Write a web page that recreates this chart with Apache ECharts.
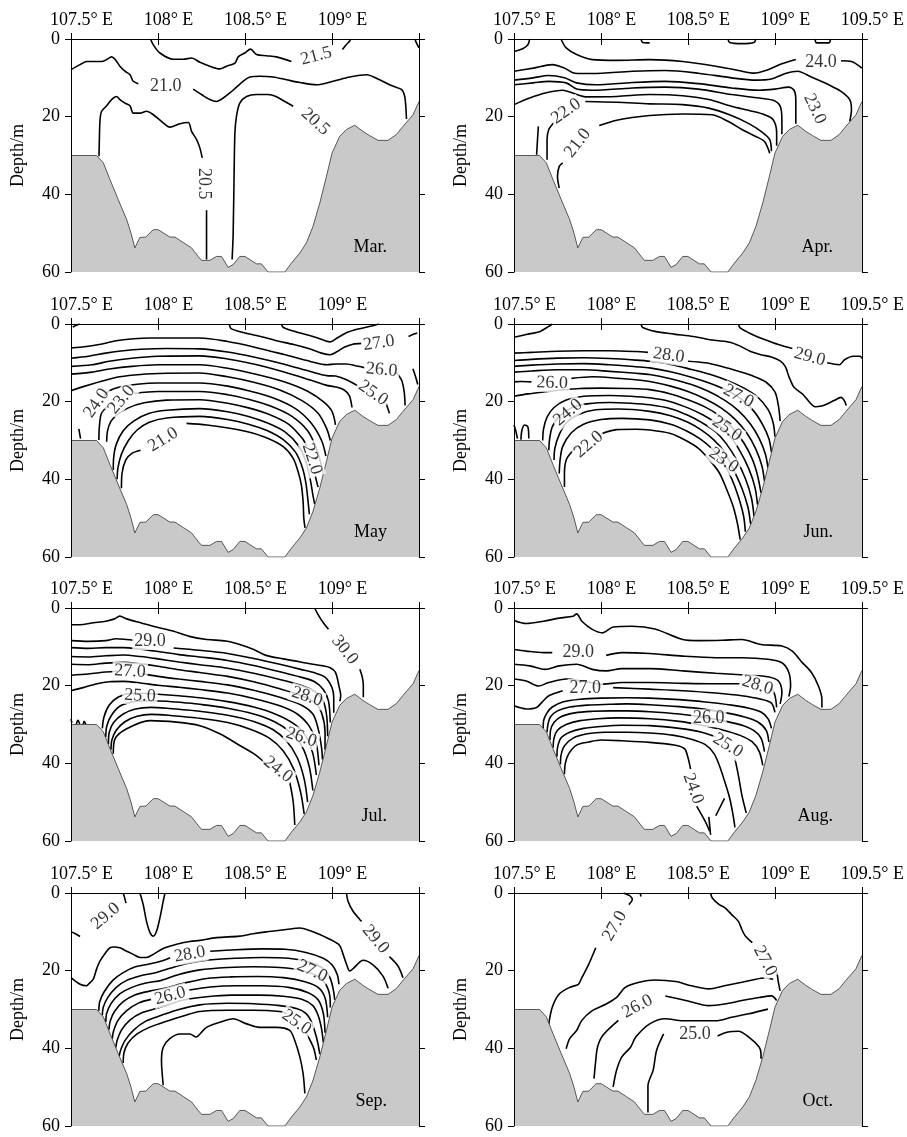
<!DOCTYPE html>
<html><head><meta charset="utf-8">
<script src="https://cdn.jsdelivr.net/npm/echarts/dist/echarts.min.js"></script>
<style>html,body{margin:0;padding:0;background:#fff}#c{width:907px;height:1137px}</style>
</head><body><div id="c"></div>
<script>
const lonTicks = [107.5, 108, 108.5, 109, 109.5];
const depthTicks = [0, 20, 40, 60];
const months = ['Mar.', 'Apr.', 'May', 'Jun.', 'Jul.', 'Aug.', 'Sep.', 'Oct.'];

// bottom topography [lon, depth]
const bathymetry = [[107.5,30],[107.647,30],[107.686,31.9],[107.724,36.2],[107.772,41.4],[107.82,46.5],[107.845,50],[107.867,53.8],[107.896,51.1],[107.93,51],[107.973,49.1],[108.001,49.1],[108.068,51],[108.097,51],[108.145,52.4],[108.193,53.8],[108.231,56],[108.25,57],[108.298,57],[108.336,56],[108.365,56],[108.403,58.8],[108.432,58.1],[108.47,56],[108.5,56],[108.566,57.9],[108.594,57.9],[108.633,60],[108.729,60],[108.767,57.7],[108.815,55.1],[108.853,52.5],[108.891,48.2],[108.93,42.2],[108.968,35.4],[109.0,29.4],[109.044,25.1],[109.083,23.3],[109.131,22.2],[109.178,23.8],[109.217,24.9],[109.264,26.1],[109.322,26.1],[109.37,24.6],[109.408,22.5],[109.466,19.5],[109.5,16.1]];

// ---- March ----
const marLines = [
 [[107.957,0],[107.973,1.5],[108.011,3.6],[108.088,5.2],[108.145,5.2],[108.193,4.9],[108.241,6.0],[108.298,7.0],[108.355,7.7],[108.394,7.0],[108.442,6.2],[108.461,4.6],[108.499,3.6],[108.532,2.6],[108.566,4.0],[108.623,4.3],[108.681,4.6],[108.767,5.8]],
 [[109.06,2.7],[109.083,1.4],[109.102,0.5],[109.106,0]],
 [[109.477,0],[109.485,1.0],[109.5,2.3]],
 [[107.5,7.9],[107.552,6.6],[107.59,5.8],[107.628,5.8],[107.676,5.8],[107.705,5.3],[107.733,4.6],[107.753,5.2],[107.781,7.0],[107.81,8.3],[107.839,9.2],[107.858,10.9],[107.887,11.5]],
 [[108.202,12.9],[108.25,14.3],[108.298,15.6],[108.336,16.1],[108.375,15.2],[108.413,13.9],[108.451,12.4],[108.489,10.9],[108.528,9.8],[108.585,9.6],[108.662,9.8],[108.738,10.5],[108.815,11.2],[108.911,11.8],[109.006,10.9],[109.102,9.8],[109.198,9.2],[109.274,10.5],[109.341,12.0],[109.399,13.0],[109.418,14.8],[109.424,17.3],[109.428,20.6]],
 [[107.661,30.2],[107.663,25.9],[107.667,20.8],[107.676,18.6],[107.705,17.2],[107.733,15.6],[107.762,14.8],[107.781,15.6],[107.81,16.5],[107.839,17.2],[107.858,19.1],[107.896,19.1],[107.934,18.6],[107.973,19.5],[108.03,21.6],[108.068,22.7],[108.126,21.8],[108.174,21.5],[108.193,23.8],[108.222,25.9],[108.241,28.1],[108.254,30.6]],
 [[108.279,44.1],[108.279,56.8]],
 [[108.426,56.8],[108.432,50],[108.438,32.8],[108.442,24.2],[108.451,19.9],[108.47,16.5],[108.509,14.8],[108.566,14.3],[108.633,14.3],[108.681,14.9],[108.729,16.1],[108.777,17.3]]
];
const marLabels = [['21.5',108.91,4.4,15],['21.0',108.045,12.3,0],['20.5',108.263,37.3,-90],['20.5',108.905,21.3,-42]];

// ---- April ----
const aprLines = [
 [[107.5,3.2],[107.55,2.5],[107.58,1.5],[107.59,0]],
 [[108.23,0],[108.24,0.9],[108.28,1.0]],
 [[108.73,0],[108.74,0.9],[108.81,1.2],[108.88,0.9],[108.89,0]],
 [[109.23,0],[109.24,1.0],[109.31,1.0],[109.32,0]],
 [[107.77,0],[107.8,2.3],[107.86,4.0],[107.95,5.3],[108.09,5.5],[108.28,5.3],[108.47,5.8],[108.66,7.0],[108.79,8.1],[108.88,8.8],[108.96,7.9],[109.04,6.4],[109.12,5.3]],
 [[109.38,5.6],[109.44,5.8],[109.5,7.5]],
 [[107.5,8.3],[107.61,7.5],[107.72,6.6],[107.79,7.5],[107.85,8.8],[107.95,8.9],[108.18,8.3],[108.37,8.1],[108.56,8.8],[108.75,10.0],[108.89,10.6],[108.98,10.3],[109.06,8.9],[109.13,8.3],[109.21,9.8],[109.31,11.8],[109.38,13.5],[109.43,15.6],[109.44,18.2],[109.43,21.2]],
 [[107.5,10.6],[107.61,10.0],[107.7,9.4],[107.79,10.0],[107.86,11.3],[107.97,11.8],[108.18,11.2],[108.37,10.9],[108.56,11.5],[108.75,12.6],[108.91,13.2],[109.0,12.9],[109.08,12.4],[109.11,13.2],[109.12,15.6],[109.12,19.5],[109.12,21.8]],
 [[107.5,11.8],[107.61,11.3],[107.7,10.9],[107.8,11.3],[107.86,12.9],[107.95,13.2],[108.18,12.6],[108.37,12.4],[108.56,12.9],[108.75,14.3],[108.91,15.2],[108.99,15.8],[109.03,17.3],[109.04,20.8],[109.04,24.5]],
 [[107.5,16.9],[107.59,15.2],[107.68,13.9],[107.78,13.2],[107.86,14.3],[107.91,14.9],[108.09,14.8],[108.28,14.3],[108.47,14.6],[108.62,15.6],[108.75,17.3],[108.87,18.6],[108.94,19.5],[108.99,20.8],[109.01,24.2],[109.01,27.5]],
 [[107.64,22.5],[107.635,26],[107.63,29.8]],
 [[107.69,31.1],[107.69,25.9],[107.7,23.3],[107.73,21.5]],
 [[107.91,16.1],[108.09,16.3],[108.28,16.7],[108.47,16.9],[108.62,17.8],[108.75,19.7],[108.85,21.8],[108.92,23.8],[108.97,25.9],[108.98,28.9]],
 [[107.76,38.4],[107.75,35.4],[107.76,32.8],[107.78,31.9]],
 [[107.99,22.3],[108.09,20.9],[108.28,19.7],[108.47,19.3],[108.64,19.5],[108.73,21.2],[108.81,23.3],[108.89,25.1],[108.94,26.4],[108.97,29.4]]
];
const aprLabels = [['24.0',109.265,6.0,0],['23.0',109.229,18.0,-65],['22.0',107.8,18.6,35],['21.0',107.866,26.8,52]];

// ---- May ----
const mayLines = [
 [[107.51,0.8],[107.53,0.3],[107.55,0]],
 [[108.41,0],[108.42,1.2],[108.49,2.2],[108.59,3.2],[108.68,4.3],[108.78,5.3],[108.87,6.4],[108.94,7.5],[108.99,7.9],[109.03,7.1],[109.07,6.0],[109.12,5.2],[109.17,5.0]],
 [[109.44,3.2],[109.47,2.6],[109.49,2.3]],
 [[108.71,0],[108.72,0.9],[108.8,2.1],[108.89,3.2],[108.96,4.3],[108.99,4.6],[109.03,3.6],[109.08,2.3],[109.15,1.3],[109.22,0.6],[109.27,0]],
 [[107.5,6.2],[107.59,5.8],[107.67,5.2],[107.76,4.3],[107.86,3.8],[107.95,3.6],[108.09,3.6],[108.24,3.6],[108.4,4.5],[108.55,5.9],[108.72,7.8],[108.88,9.7],[108.97,10.5],[109.02,10.3],[109.08,10.3],[109.15,10.9],[109.19,11.3]],
 [[109.37,12.5],[109.4,14.5],[109.415,17.5],[109.42,21]],
 [[109.465,11.5],[109.48,13.5],[109.493,15.6]],
 [[107.5,8.8],[107.6,8.3],[107.7,7.5],[107.8,6.9],[107.9,6.5],[108.05,6.3],[108.24,6.4],[108.4,7.2],[108.55,8.5],[108.72,10.3],[108.88,12.3],[108.97,13.3],[109.02,13.4],[109.08,14.3],[109.15,16]],
 [[109.31,20.3],[109.33,23]],
 [[107.5,10.9],[107.62,10.5],[107.72,9.6],[107.85,8.8],[108.0,8.3],[108.24,8.2],[108.4,9.0],[108.55,10.3],[108.72,12.3],[108.88,14.5],[108.97,15.8],[109.02,16.2],[109.07,17.0],[109.1,18.5],[109.115,21.5]],
 [[107.5,12.9],[107.62,12.4],[107.72,11.6],[107.85,10.9],[108.0,10.5],[108.24,10.5],[108.4,11.4],[108.55,12.8],[108.72,14.8],[108.86,17.3],[108.95,20],[109.0,22.5],[109.02,26]],
 [[107.5,17.2],[107.58,16.0],[107.67,14.8],[107.78,13.6],[107.9,13.0],[108.05,12.7],[108.24,12.6],[108.4,13.6],[108.55,15.0],[108.7,17.0],[108.83,19.8],[108.92,23],[108.97,27],[108.99,30]],
 [[107.545,27],[107.55,28.3],[107.555,29.5]],
 [[107.69,18.6],[107.72,17.2],[107.78,16.2],[107.88,15.5],[108.0,15.2],[108.24,15.2],[108.4,16.0],[108.52,17.2],[108.66,19.0],[108.79,21.8],[108.88,25.5],[108.94,30],[108.965,34]],
 [[107.66,29.9],[107.663,26.5],[107.675,23],[107.71,21.3]],
 [[107.86,17.9],[108.0,17.4],[108.24,17.4],[108.4,18.2],[108.52,19.4],[108.65,21.2],[108.77,23.8],[108.86,27.5],[108.91,32],[108.94,36.5],[108.948,38.3]],
 [[107.705,30.3],[107.71,27.5],[107.73,25],[107.77,23.2],[107.83,21.6],[107.92,20.3],[108.05,19.6],[108.24,19.5],[108.4,20.4],[108.52,21.6],[108.64,23.3],[108.75,25.8],[108.83,29.5],[108.855,31.5]],
 [[108.903,39],[108.92,42]],
 [[107.743,37.6],[107.745,34.5],[107.76,31],[107.8,27.5],[107.86,25],[107.95,23],[108.05,22.2],[108.24,21.8],[108.4,22.6],[108.52,23.8],[108.63,25.5],[108.73,27.8],[108.81,31.5],[108.85,35.5],[108.875,40],[108.89,44],[108.9,46.3]],
 [[107.765,40],[107.77,37],[107.79,33.5],[107.83,30],[107.88,27.3],[107.95,25.3],[108.05,24.2],[108.24,23.8],[108.4,24.6],[108.52,25.8],[108.63,27.5],[108.72,29.8],[108.79,33],[108.83,37],[108.85,41],[108.862,45.5],[108.87,49]],
 [[107.79,42.3],[107.793,38.5],[107.815,35],[107.85,33.3],[107.9,32.5]],
 [[108.164,25.6],[108.28,26],[108.394,26.7],[108.509,27.7],[108.623,29.3],[108.72,31.6],[108.777,34.6],[108.805,38],[108.824,41.5],[108.834,45.8],[108.838,50],[108.845,52.5]]
];
const mayLabels = [['27.0',109.27,4.9,8],['26.0',109.285,11.8,-5],['25.0',109.236,17.8,-35],['24.0',107.647,20.4,55],['23.0',107.79,19.5,50],['22.0',108.885,34.8,-72],['21.0',108.03,29.8,32]];

// ---- June ----
const junLines = [
 [[107.5,3.4],[107.57,2.7],[107.65,1.9],[107.7,0.6],[107.72,0]],
 [[108.23,0],[108.24,0.9],[108.31,1.9],[108.42,2.6],[108.53,3.2],[108.65,4.2],[108.74,4.7],[108.8,5.7],[108.86,7.1],[108.92,7.9],[108.98,8.5],[109.03,9.5],[109.06,11],[109.08,13.5],[109.11,16.3],[109.16,18.1],[109.2,20.2],[109.23,21.3],[109.27,21.1],[109.3,20.6],[109.34,19.7],[109.38,18.9],[109.4,19.8],[109.41,21]],
 [[108.79,0],[108.8,1.0],[108.87,2.7],[108.94,4.0],[109.02,5.3],[109.1,6.3]],
 [[109.3,10.0],[109.37,10.5],[109.4,9.2],[109.45,8.3],[109.49,8.3],[109.5,8.9]],
 [[107.5,7.5],[107.6,7.3],[107.75,7.0],[107.9,6.9],[108.05,6.9],[108.2,7.1],[108.27,7.3]],
 [[108.5,9.6],[108.6,10.0],[108.7,11.0],[108.8,12.3],[108.88,13.5],[108.95,15],[109.0,17.5],[109.02,21],[109.03,25]],
 [[107.5,9.4],[107.6,9.1],[107.75,8.8],[107.9,8.7],[108.05,8.9],[108.2,9.3],[108.28,9.6],[108.4,10.4],[108.52,11.7],[108.63,13.0],[108.73,14.6],[108.82,16.5],[108.9,18.8],[108.96,22],[108.99,25.5],[109.0,29]],
 [[107.5,10.9],[107.6,10.6],[107.75,10.3],[107.9,10.2],[108.05,10.5],[108.2,11.0],[108.28,11.3],[108.4,12.3],[108.52,13.7],[108.63,15.3],[108.73,17.2],[108.81,19.5],[108.88,22.5],[108.93,26],[108.965,29.5],[108.98,33]],
 [[107.5,12.4],[107.6,12.1],[107.75,11.8],[107.9,11.8],[108.05,12.2],[108.2,12.7],[108.28,13.0],[108.4,14.1],[108.52,15.6],[108.62,17.4],[108.71,19.6],[108.79,22.3],[108.86,25.8],[108.91,29.5],[108.945,33.5],[108.96,37]],
 [[107.5,14.9],[107.54,14.8],[107.6,14.9]],
 [[107.83,14.0],[107.95,13.6],[108.1,14.0],[108.28,14.8],[108.4,16.0],[108.5,17.4],[108.6,19.3],[108.69,21.6],[108.77,24.5],[108.84,28.2],[108.89,32.2],[108.925,36.5],[108.94,40.5]],
 [[107.5,18.6],[107.58,18.0],[107.67,17.5],[107.77,17.0],[107.88,16.6],[108.0,16.5],[108.15,16.6],[108.28,16.9],[108.4,18.0],[108.5,19.5],[108.6,21.4],[108.68,23.6],[108.75,26.5],[108.82,30.5],[108.87,34.8],[108.9,39],[108.92,43.5]],
 [[107.665,30],[107.67,27],[107.69,24],[107.73,21.5],[107.8,19.6],[107.9,18.6],[108.05,18.4],[108.17,18.6],[108.28,19.0],[108.4,20.0],[108.5,21.6],[108.59,23.5],[108.67,25.8],[108.74,28.8],[108.8,32.8],[108.85,37.3],[108.885,42],[108.9,46.5]],
 [[107.7,32.5],[107.705,29.5],[107.72,26.5],[107.76,23.8],[107.83,21.6],[107.93,20.5],[108.05,20.2],[108.17,20.4],[108.28,20.8],[108.4,21.8],[108.5,23.5],[108.58,25.4],[108.66,27.8],[108.72,30.8],[108.78,35],[108.83,39.8],[108.865,44.8],[108.88,49.5]],
 [[107.73,35],[107.735,32],[107.76,28.5],[107.8,25.5],[107.87,23.3],[107.97,22.1],[108.1,21.9],[108.28,22.5],[108.4,23.6],[108.5,25.3],[108.58,27.4],[108.65,29.9],[108.71,33],[108.76,37.3],[108.81,42.3],[108.845,47.2],[108.86,51.5]],
 [[107.76,38.5],[107.765,35],[107.78,31.5],[107.83,28],[107.9,25.8],[108.0,24.6],[108.12,24.3],[108.28,24.7],[108.4,25.8],[108.49,27.5],[108.57,29.6],[108.64,32.2],[108.7,35.5],[108.75,39.7],[108.79,44.5],[108.82,49.5],[108.83,53.5]],
 [[107.79,42],[107.79,38.5],[107.8,35],[107.83,33],[107.86,31.6]],
 [[108.0,28.3],[108.09,27.2],[108.2,27.1],[108.28,27.3],[108.4,28.2],[108.48,29.8],[108.56,32],[108.62,34.8],[108.68,38.3],[108.72,42.3],[108.76,47],[108.785,51.5],[108.8,55.5]],
 [[107.5,26],[107.51,27.5],[107.52,29.5]],
 [[107.54,29.8],[107.545,27.5],[107.56,26],[107.58,26.5],[107.585,29.5]]
];
const junLabels = [['28.0',108.39,8.1,-8],['29.0',109.2,8.5,-15],['26.0',107.72,15.2,-2],['27.0',108.79,18.6,-28],['24.0',107.81,22.8,40],['25.0',108.724,27.0,-35],['23.0',108.705,35.1,-35],['22.0',107.93,31.0,40]];

// ---- July ----
const julLines = [
 [[108.9,0],[108.92,1.7],[108.95,3.8],[108.98,5.5]],
 [[109.16,15.8],[109.175,18],[109.18,20],[109.18,23]],
 [[107.5,4.3],[107.55,4.3],[107.63,3.8],[107.7,3.4],[107.75,2.8],[107.78,2.1],[107.82,2.8],[107.9,3.8],[107.99,4.9],[108.09,6.0],[108.18,7.3],[108.28,8.1],[108.39,8.5],[108.47,9.4],[108.55,10.7],[108.62,12.2],[108.72,13.1],[108.82,13.9],[108.89,14.5],[108.95,14.9],[108.99,15.4],[109.02,16.6],[109.04,20.1],[109.05,22.6],[109.045,24]],
 [[107.5,8.4],[107.6,8.6],[107.7,8.4],[107.76,7.9],[107.82,8.1],[107.86,8.3]],
 [[108.09,10.3],[108.24,10.9],[108.4,11.7],[108.55,13.0],[108.7,14.5],[108.82,15.8],[108.9,16.7],[108.96,17.8],[109.0,20.5],[109.01,23],[109.01,27]],
 [[107.5,10.2],[107.6,10.4],[107.7,10.2],[107.8,10.2],[107.9,10.6],[108.0,11.2],[108.12,12.0],[108.24,12.6],[108.4,13.5],[108.55,14.8],[108.7,16.4],[108.82,17.8],[108.9,19],[108.95,21],[108.98,24],[108.99,29.5]],
 [[107.5,12.5],[107.6,12.6],[107.7,12.3],[107.8,12.1],[107.9,12.5],[108.0,13.1],[108.12,13.9],[108.24,14.6],[108.4,15.5],[108.55,16.8],[108.7,18.4],[108.82,19.9],[108.9,21.5],[108.95,24],[108.97,28],[108.975,33]],
 [[107.5,14.5],[107.6,14.6],[107.7,14.2],[107.8,14.0],[107.9,14.4],[108.0,15.0],[108.12,15.9],[108.24,16.6],[108.4,17.6],[108.55,19.0],[108.7,20.8],[108.82,22.5],[108.9,24.3],[108.94,27],[108.96,32],[108.96,36.5]],
 [[107.5,17.3],[107.6,17.0],[107.7,16.5],[107.77,16.3]],
 [[107.91,16.9],[108.0,17.6],[108.12,18.3],[108.24,18.9],[108.4,19.8],[108.55,21.2],[108.7,23.0],[108.82,24.9],[108.89,27.3],[108.92,31],[108.94,36],[108.945,39]],
 [[107.5,21.3],[107.57,20.5],[107.65,19.5],[107.72,19.0],[107.8,18.9],[107.9,19.3],[108.0,19.9],[108.12,20.4],[108.24,21.0],[108.4,21.9],[108.55,23.3],[108.7,25.2],[108.8,27.3],[108.87,30.5],[108.91,35],[108.925,40.5]],
 [[107.68,31],[107.69,28],[107.72,25],[107.77,23],[107.84,22],[107.93,22],[108.0,22.2],[108.12,22.6],[108.24,23.1],[108.4,24.1],[108.55,25.5],[108.68,27.4],[108.78,29.8],[108.85,33],[108.89,37.5],[108.91,43]],
 [[107.7,33.2],[107.705,30.5],[107.73,27.8],[107.78,25.3],[107.86,24.1],[107.95,23.9],[108.05,24.0],[108.15,24.4],[108.24,24.8],[108.4,25.8],[108.55,27.3],[108.67,29.3],[108.76,32],[108.83,35.8],[108.87,41],[108.89,47]],
 [[107.715,35],[107.72,32],[107.745,29.5],[107.8,27.3],[107.87,26],[107.96,25.6],[108.05,25.8],[108.15,26.2],[108.24,26.6],[108.4,27.6],[108.55,29.2],[108.66,31.3],[108.74,34.3],[108.8,38.5],[108.84,44],[108.86,50]],
 [[107.73,36.5],[107.735,34],[107.76,31.5],[107.81,29.3],[107.88,27.9],[107.96,27.4],[108.06,27.6],[108.15,28.0],[108.24,28.4],[108.4,29.5],[108.53,31.2],[108.64,33.5],[108.72,36.8],[108.78,41.5],[108.82,47.5],[108.84,53]],
 [[107.743,37.5],[107.753,33.7],[107.82,31.1],[107.954,29],[108.107,29.4],[108.24,30.3],[108.355,32.4],[108.47,35.4],[108.566,38],[108.623,40.3]],
 [[108.757,44.8],[108.777,49.9],[108.786,55.9]],
 [[107.5,28.6],[107.505,29.6]],
 [[107.53,29.9],[107.54,28.9],[107.55,29.9]],
 [[107.57,29.9],[107.575,29.2],[107.585,29.9]]
];
const julLabels = [['30.0',109.073,10.8,-52],['29.0',107.954,8.5,0],['27.0',107.839,16.3,-3],['25.0',107.896,22.6,-3],['28.0',108.857,22.8,-18],['26.0',108.824,33.3,-18],['24.0',108.69,41.6,-38]];

// ---- August ----
const augLines = [
 [[107.5,3.2],[107.57,4.0],[107.67,3.4],[107.76,2.6],[107.84,2.1],[107.86,1.5],[107.89,3.4],[107.95,5.5],[108.01,6.4],[108.07,4.9],[108.18,4.7],[108.31,5.4],[108.47,8.1],[108.56,8.4],[108.7,8.3],[108.81,8.1],[108.92,9.4],[109.04,9.8],[109.1,11.1],[109.15,13.7],[109.21,16.6],[109.25,20.1],[109.27,23.5],[109.27,25.6]],
 [[107.5,10.7],[107.57,11.1],[107.67,11.5],[107.72,11.5]],
 [[108.03,12.2],[108.12,11.5],[108.28,11.7],[108.47,12.4],[108.66,12.8],[108.81,12.8],[108.96,13.2],[109.04,14.1],[109.08,16.6],[109.09,20.1],[109.08,22.8]],
 [[107.5,14.5],[107.59,14.9],[107.68,15.8],[107.76,14.9],[107.86,14.5],[107.95,15.8],[108.03,16.2],[108.12,15.6],[108.28,15.6],[108.47,16.2],[108.66,16.8],[108.85,17.3],[108.96,17.7],[109.02,18.8],[109.04,21.8],[109.03,24.7]],
 [[107.5,18.3],[107.57,18.8],[107.64,20.1],[107.7,19.2],[107.8,18.3],[107.89,18.8],[108.01,19.6],[108.12,19.2],[108.28,19.2],[108.47,19.4],[108.62,19.5],[108.8,19.5]],
 [[108.98,20.6],[109.0,22.5],[109.01,25.6]],
 [[107.5,25.2],[107.57,26],[107.63,25.6],[107.66,24.3],[107.7,22.6],[107.78,21.3]],
 [[108.07,20.5],[108.28,20.9],[108.47,21.3],[108.66,21.9],[108.81,22.6],[108.92,23.5],[108.98,24.5],[109.0,26.9]],
 [[107.668,31.0],[107.67,29],[107.69,27],[107.72,25.5],[107.78,24.2],[107.88,23.5],[108.0,23.2],[108.15,23.1],[108.28,23.2],[108.45,23.6],[108.6,24.2],[108.75,25],[108.85,25.8],[108.92,26.8],[108.96,28.5],[108.98,31]],
 [[107.69,32.0],[107.695,30],[107.71,28],[107.75,26.5],[107.82,25.5],[107.92,25],[108.05,24.8],[108.15,24.7],[108.28,24.9],[108.45,25.4],[108.6,26.1],[108.72,27],[108.82,28],[108.9,29.3],[108.95,31.5],[108.965,34.5]],
 [[107.707,34],[107.71,31.5],[107.73,29.5],[107.77,28],[107.85,27],[107.95,26.6],[108.05,26.5],[108.15,26.5],[108.28,26.7],[108.45,27.3],[108.6,28.2],[108.72,29.2],[108.82,30.3],[108.88,31.6],[108.92,33.5],[108.94,37]],
 [[107.725,36],[107.73,33.5],[107.75,31.5],[107.8,30],[107.88,29],[107.98,28.5],[108.1,28.3],[108.28,28.5],[108.45,29.2],[108.58,30.2],[108.7,31.4],[108.8,32.8],[108.87,34.5],[108.91,37],[108.93,40.5]],
 [[107.747,38.3],[107.75,36],[107.77,33.5],[107.82,32],[107.9,31],[108.0,30.5],[108.12,30.2],[108.28,30.3],[108.45,31],[108.58,32],[108.66,33.2]],
 [[108.77,38.8],[108.79,43.1],[108.81,48.2],[108.835,52.8]],
 [[107.767,40.3],[107.77,38],[107.79,35.5],[107.84,33.5],[107.92,32.4],[108.02,32.0],[108.15,32.0],[108.28,32.2],[108.42,32.8],[108.52,33.8],[108.6,35.2],[108.65,37.5],[108.68,40.5],[108.71,44.5],[108.74,49],[108.76,53.5],[108.77,56.5]],
 [[107.79,42.8],[107.795,40],[107.815,37.5],[107.86,35.3],[107.93,34.5],[108.0,34.0],[108.12,34.2],[108.28,34.6],[108.42,35.3],[108.48,36.2],[108.5,38.5],[108.515,41.5]],
 [[108.55,51],[108.6,55],[108.625,57.5]],
 [[108.62,53.8],[108.63,58.4]],
 [[108.66,53.5],[108.71,49]]
];
const augLabels = [['29.0',107.87,11.5,0],['28.0',108.9,19.9,-18],['27.0',107.91,20.6,0],['26.0',108.62,28.4,0],['25.0',108.73,35.4,-32],['24.0',108.53,46.5,-70]];

// ---- September ----
const sepLines = [
 [[107.5,21.8],[107.552,23.5],[107.59,23.9],[107.6,23.5],[107.628,22.2],[107.647,19.6],[107.667,17.5],[107.705,15.0],[107.724,14.1],[107.743,13.9],[107.781,14.1],[107.82,15.0],[107.858,15.8],[107.896,16.6],[107.934,16.6],[107.973,15.8],[108.03,14.3],[108.107,13.2],[108.183,12.5],[108.241,12.2],[108.336,11.5],[108.47,11.1],[108.547,10.5],[108.623,10.0],[108.738,9.4],[108.815,9.0],[108.891,10.0],[108.987,11.9],[109.044,13.5],[109.064,15.8],[109.083,18.3],[109.102,20.1],[109.121,19.5],[109.159,17.8],[109.178,17.3],[109.236,18.5],[109.293,21.4],[109.322,24.5]],
 [[107.5,10.0],[107.525,10.5],[107.552,11.2]],
 [[107.8,0],[107.808,1.2],[107.816,2.6]],
 [[107.896,0],[107.915,3.0],[107.934,7.3],[107.954,10.2],[107.973,11.1],[107.992,9.8],[108.011,6.4],[108.03,2.1],[108.04,0]],
 [[109.083,0],[109.092,2.1],[109.121,4.7],[109.159,6.8],[109.17,7.3]],
 [[109.33,16.4],[109.379,18.8],[109.408,21.8]],
 [[107.66,30.3],[107.665,28],[107.69,25.5],[107.74,22.5],[107.8,20.5],[107.87,19.0],[107.95,18.3],[108.03,17.4],[108.07,16.7]],
 [[108.3,15.0],[108.45,14.6],[108.6,14.4],[108.73,14.5],[108.85,15.3],[108.95,16.8],[109.0,18.5],[109.03,21],[109.04,23.5]],
 [[107.68,31.5],[107.685,29.5],[107.71,27],[107.76,24.3],[107.82,22.5],[107.9,21.3],[107.98,20.6],[108.07,19.4],[108.16,18.2],[108.28,17.3],[108.45,16.8],[108.6,16.6],[108.75,16.8],[108.87,17.8],[108.95,19.5],[108.99,22],[109.01,25.5],[109.015,27.5]],
 [[107.7,33.2],[107.705,31],[107.73,28.5],[107.78,26],[107.85,24.3],[107.93,23.2],[108.02,22.5],[108.12,21],[108.24,19.8],[108.4,19.2],[108.55,19.0],[108.7,19.2],[108.83,20.0],[108.92,21.5],[108.97,24],[108.99,28],[108.99,29.5]],
 [[107.718,35.2],[107.725,33],[107.75,30.5],[107.8,28],[107.87,26.2],[107.96,25.2],[108.05,24.4],[108.15,23.2],[108.28,22.0],[108.42,21.6],[108.57,21.5],[108.72,21.8],[108.84,22.8],[108.92,24.3],[108.96,27],[108.975,32]],
 [[107.737,37.5],[107.745,35.5],[107.77,32.8],[107.82,30.3],[107.89,28.3],[107.96,27.4]],
 [[108.18,25],[108.3,24.2],[108.45,23.9],[108.6,23.9],[108.75,24.3],[108.86,25.6],[108.92,27.5],[108.95,31],[108.96,36]],
 [[107.757,39.8],[107.765,38],[107.79,35.3],[107.84,32.7],[107.91,30.8],[108.0,29.6],[108.07,28.6],[108.15,27.5],[108.28,26.7],[108.42,26.3],[108.58,26.3],[108.72,26.6],[108.83,27.4],[108.89,29],[108.92,31.5],[108.94,35],[108.95,38.5]],
 [[107.777,42],[107.785,40.5],[107.81,38],[107.86,35.3],[107.93,33],[108.02,31.5],[108.12,30],[108.24,28.8],[108.4,28.4],[108.55,28.5],[108.7,29],[108.8,29.8],[108.85,31],[108.88,33],[108.91,37],[108.93,41.5]],
 [[107.8,43.8],[107.805,41],[107.83,38.5],[107.88,36.3],[107.95,34.6],[108.05,33],[108.15,31.6],[108.24,30.5],[108.4,30.2],[108.55,30.2],[108.7,30.5],[108.74,31.0]],
 [[108.85,35.8],[108.875,38],[108.895,40],[108.91,43]],
 [[108.03,49.5],[108.02,43.1],[108.03,39.7],[108.068,37.5],[108.126,36.3],[108.183,36.3],[108.22,37.1],[108.241,36.3],[108.279,34.6],[108.355,33.3],[108.432,32.4],[108.509,33.7],[108.585,34.6],[108.681,34.6],[108.757,35.4],[108.786,38.0],[108.815,42.2],[108.834,46.5],[108.844,51.6]]
];
const sepLabels = [['29.0',107.7,6.0,40],['29.0',109.25,11.9,-50],['28.0',108.183,15.8,10],['27.0',108.886,20.1,-25],['26.0',108.07,26.5,15],['25.0',108.796,33.3,-35]];

// ---- October ----
const octLines = [
 [[107.7,33.7],[107.72,29.4],[107.76,26.0],[107.82,24.3],[107.87,23.5],[107.89,21.8],[107.93,18.3],[107.97,14.1]],
 [[108.16,3.0],[108.18,1.7],[108.17,0.85],[108.13,0]],
 [[108.225,0],[108.23,0.9]],
 [[108.63,0],[108.64,1.3],[108.68,3.0],[108.71,3.7],[108.75,5.5],[108.79,7.3],[108.81,9.4],[108.83,11.1],[108.87,12.8]],
 [[109.01,20.3],[109.015,21.5],[109.02,23.0],[109.03,25.2]],
 [[107.8,40.1],[107.82,37.5],[107.86,35.4],[107.89,32.8],[107.95,30.3],[108.03,28.6],[108.09,26.9],[108.14,24.3],[108.22,23.0],[108.31,22.4],[108.43,22.8],[108.52,23.9],[108.62,24.7],[108.71,23.9],[108.81,23.0],[108.89,22.2],[108.94,21.9],[108.99,22.2]],
 [[107.96,47.8],[107.97,43.1],[107.98,39.7],[108.01,36.7],[108.1,32.8]],
 [[108.37,26.5],[108.5,27.8],[108.62,29.0],[108.71,28.6],[108.81,27.7],[108.91,26.9],[108.98,26.5],[109.01,27.7]],
 [[108.07,49.9],[108.09,45.6],[108.12,42.2],[108.17,39.7],[108.2,37.1],[108.28,33.7],[108.37,32.4],[108.47,32.9],[108.56,32.9],[108.66,32.9],[108.75,32.0],[108.85,31.1],[108.96,29.9]],
 [[108.27,56.5],[108.27,49.7],[108.3,45.6],[108.32,40.5],[108.36,36.3]],
 [[108.67,36.8],[108.73,35.8],[108.79,35.6],[108.85,37.1],[108.91,39.7],[108.92,41.4],[108.92,42.7]]
];
const octLabels = [['27.0',108.08,8.5,60],['27.0',108.943,17.5,-62],['26.0',108.21,29.2,28],['25.0',108.54,36.4,0]];

const panels = [
  [marLines, marLabels], [aprLines, aprLabels], [mayLines, mayLabels], [junLines, junLabels],
  [julLines, julLabels], [augLines, augLabels], [sepLines, sepLabels], [octLines, octLabels]
];

const FONT = '"Liberation Serif", "Times New Roman", serif';
const TXT = '#000';
const FS = 18;
const tops = [39, 324, 608, 893];
const grids = [], xAxes = [], yAxes = [], series = [], titles = [];

panels.forEach((p, i) => {
  const col = i % 2, row = Math.floor(i / 2);
  const left = col ? 514 : 71, width = col ? 350 : 348, top = tops[row], height = 233;
  grids.push({ left, top, width, height });
  const xBase = {
    type: 'value', min: lonTicks[0], max: lonTicks[lonTicks.length - 1], interval: 0.5, gridIndex: i, z: 10,
    splitLine: { show: false },
    axisLine: { lineStyle: { color: '#000', width: 1 } },
    axisTick: { length: 6, lineStyle: { color: '#000', width: 1 } }
  };
  xAxes.push(Object.assign({}, xBase, {
    position: 'top',
    axisLabel: { fontFamily: FONT, fontSize: FS, color: TXT, margin: 10, padding: [0, 0, 0, 21],
      formatter: v => (col === 0 && v === 109.5) ? '' : (v + '° E') }
  }));
  xAxes.push(Object.assign({}, xBase, { position: 'bottom', axisLabel: { show: false } }));
  const yBase = {
    type: 'value', min: depthTicks[0], max: depthTicks[depthTicks.length - 1], interval: 20, inverse: true, gridIndex: i, z: 10,
    splitLine: { show: false },
    axisLine: { lineStyle: { color: '#000', width: 1 } },
    axisTick: { length: 6, lineStyle: { color: '#000', width: 1 } }
  };
  yAxes.push(Object.assign({}, yBase, {
    position: 'left', name: 'Depth/m', nameLocation: 'middle', nameGap: 44, nameRotate: 90,
    nameTextStyle: { fontFamily: FONT, fontSize: FS, color: TXT },
    axisLabel: { fontFamily: FONT, fontSize: FS, color: TXT, margin: 11 }
  }));
  yAxes.push(Object.assign({}, yBase, { position: 'right', axisLabel: { show: false } }));

  const xi = 2 * i, yi = 2 * i;
  p[0].forEach(seg => series.push({
    type: 'line', xAxisIndex: xi, yAxisIndex: yi, data: seg, symbol: 'none', smooth: 0.3,
    lineStyle: { color: '#000', width: 1.6 }, z: 2, silent: true, animation: false
  }));
  series.push({
    type: 'line', xAxisIndex: xi, yAxisIndex: yi, data: bathymetry, symbol: 'none',
    lineStyle: { color: '#333', width: 0.8 }, areaStyle: { color: '#c9c9c9', opacity: 1, origin: 'end' },
    z: 4, silent: true, animation: false
  });
  series.push({
    type: 'scatter', xAxisIndex: xi, yAxisIndex: yi, symbolSize: 1, itemStyle: { color: 'rgba(0,0,0,0)' },
    silent: true, animation: false, z: 6,
    data: p[1].map(l => ({ name: l[0], value: [l[1], l[2]], label: { rotate: l[3] } })),
    label: { show: true, position: 'inside', formatter: '{b}', fontFamily: FONT, fontSize: FS, color: TXT,
      backgroundColor: '#fff', padding: [0, 2] }
  });
  titles.push({
    text: months[i], right: col ? 74 : 520, top: top + 199, padding: 0,
    textStyle: { fontFamily: FONT, fontSize: FS, fontWeight: 'normal', color: TXT }
  });
});

const chart = echarts.init(document.getElementById('c'));
chart.setOption({ animation: false, backgroundColor: '#fff', title: titles, grid: grids, xAxis: xAxes, yAxis: yAxes, series });
</script>
</body></html>
